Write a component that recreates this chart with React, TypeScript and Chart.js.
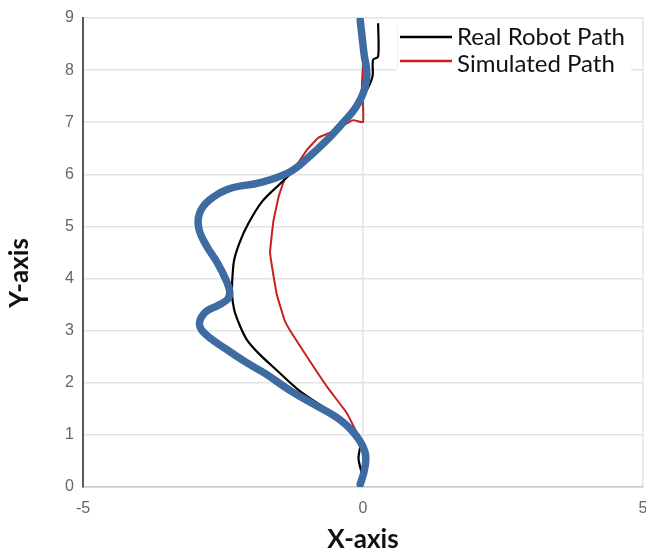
import React, { useEffect, useRef } from 'react';
import { Chart, registerables } from 'chart.js';

Chart.register(...registerables);

// Axis ranges / ticks
const xMin = -5;
const xMax = 5;
const yMin = 0;
const yMax = 9;
const xStep = 5;
const yStep = 1;

const xTitle = 'X-axis';
const yTitle = 'Y-axis';
const legendLabels = ['Real Robot Path', 'Simulated Path'];

// Thick blue path (x, y)
const blueX = [-0.05, 0.03, 0.04, -0.1, -0.4, -0.9, -1.3, -1.75, -2.1, -2.45, -2.8, -2.92, -2.82, -2.6, -2.42, -2.38, -2.45, -2.6, -2.79, -2.93, -2.92, -2.75, -2.4, -1.8, -1.3, -1.0, -0.65, -0.35, -0.15, 0.0, 0.07, 0.02, -0.05];
const blueY = [0.05, 0.35, 0.65, 0.95, 1.28, 1.6, 1.85, 2.18, 2.4, 2.65, 2.92, 3.12, 3.35, 3.48, 3.6, 3.75, 3.98, 4.3, 4.62, 4.95, 5.25, 5.5, 5.72, 5.85, 6.05, 6.3, 6.65, 7.0, 7.25, 7.55, 7.9, 8.3, 8.96];

// Real robot path (black)
const blackX = [-0.02, -0.08, -0.05, -0.4, -0.7, -1.15, -1.55, -1.85, -2.07, -2.2, -2.3, -2.34, -2.33, -2.3, -2.2, -2.05, -1.8, -1.48, -1.25, -0.95, -0.6, -0.3, -0.1, 0.07, 0.17, 0.18, 0.27, 0.27];
const blackY = [0.25, 0.55, 0.95, 1.33, 1.53, 1.86, 2.25, 2.55, 2.82, 3.1, 3.4, 3.72, 4.05, 4.36, 4.7, 5.05, 5.48, 5.82, 6.05, 6.35, 6.7, 7.05, 7.35, 7.62, 7.88, 8.2, 8.26, 8.9];

// Simulated path (red)
const redX = [0.0, -0.29, -0.64, -1.0, -1.3, -1.4, -1.54, -1.62, -1.66, -1.6, -1.5, -1.4, -1.25, -1.0, -0.8, -0.5, -0.18, 0.0, 0.0, -0.02, 0.0, 0.0];
const redY = [0.8, 1.42, 1.92, 2.5, 3.0, 3.2, 3.7, 4.2, 4.5, 5.1, 5.6, 5.9, 6.08, 6.47, 6.7, 6.84, 7.04, 7.0, 7.35, 7.7, 8.1, 8.4];

const zip = (xs: number[], ys: number[]) => xs.map((x, i) => ({ x, y: ys[i] }));

const BLUE = '#3d6ba2';
const BLACK = '#000000';
const RED = '#c8201e';

export default function App() {
  const ref = useRef<HTMLCanvasElement | null>(null);

  useEffect(() => {
    document.body.style.margin = '0';
    const canvas = ref.current;
    if (!canvas) return;

    const overlay = {
      id: 'overlay',
      afterDraw(chart: any) {
        const ctx = chart.ctx as CanvasRenderingContext2D;
        ctx.save();
        // Y-axis title
        ctx.translate(20, 273);
        ctx.rotate(-Math.PI / 2);
        ctx.font = 'bold 26px Lato';
        ctx.fillStyle = '#111';
        ctx.textAlign = 'center';
        ctx.textBaseline = 'middle';
        ctx.fillText(yTitle, 0, 0);
        ctx.restore();

        // Legend
        ctx.save();
        ctx.fillStyle = '#ffffff';
        ctx.fillRect(397, 21, 234, 62);
        ctx.strokeStyle = '#eeeeee';
        ctx.lineWidth = 1;
        ctx.beginPath();
        ctx.moveTo(397.5, 26);
        ctx.lineTo(397.5, 68);
        ctx.stroke();
        const rows = [
          { y: 37, color: BLACK, w: 2.5 },
          { y: 61, color: RED, w: 2.5 },
        ];
        ctx.font = '24px Lato';
        ctx.textBaseline = 'middle';
        ctx.textAlign = 'left';
        rows.forEach((r, i) => {
          ctx.strokeStyle = r.color;
          ctx.lineWidth = r.w;
          ctx.beginPath();
          ctx.moveTo(400, r.y);
          ctx.lineTo(452, r.y);
          ctx.stroke();
          ctx.fillStyle = '#111';
          ctx.fillText(legendLabels[i], 457, r.y + (i === 1 ? 3 : 0));
        });
        ctx.restore();
      },
    };

    const chart = new Chart(canvas, {
      type: 'line',
      data: {
        datasets: [
          {
            label: 'Blue',
            data: zip(blueX, blueY),
            borderColor: BLUE,
            borderWidth: 7.5,
            pointRadius: 0,
            tension: 0.4,
            fill: false,
            order: 0,
            borderCapStyle: 'round',
            borderJoinStyle: 'round',
          },
          {
            label: legendLabels[0],
            data: zip(blackX, blackY),
            borderColor: BLACK,
            borderWidth: 2.2,
            pointRadius: 0,
            tension: 0.3,
            fill: false,
            order: 1,
          },
          {
            label: legendLabels[1],
            data: zip(redX, redY),
            borderColor: RED,
            borderWidth: 2,
            pointRadius: 0,
            tension: 0.1,
            fill: false,
            order: 2,
          },
        ],
      },
      options: {
        responsive: false,
        animation: false,
        layout: { padding: { top: 18, right: 3, left: 0, bottom: 0 } },
        plugins: {
          legend: { display: false },
          tooltip: { enabled: false },
        },
        scales: {
          x: {
            type: 'linear',
            min: xMin,
            max: xMax,
            afterFit: (s: any) => { s.height = 70; s.paddingLeft = 0; s.paddingRight = 0; },
            ticks: {
              stepSize: xStep,
              padding: 12,
              color: '#666',
              font: { family: 'Liberation Sans', size: 16 },
              maxRotation: 0,
            },
            grid: {
              drawTicks: false,
              color: (c: any) => (c.tick && c.tick.value === xMin ? 'rgba(0,0,0,0)' : '#e4e4e4'),
              lineWidth: 1.5,
            },
            border: { display: true, color: '#c8c8c8', width: 1.5 },
            title: {
              display: true,
              text: xTitle,
              color: '#111',
              font: { family: 'Lato', size: 26, weight: 'bold' },
              padding: { top: 0, bottom: 2 },
            },
          },
          y: {
            type: 'linear',
            min: yMin,
            max: yMax,
            afterFit: (s: any) => { s.width = 83; s.paddingTop = 0; s.paddingBottom = 0; },
            ticks: {
              stepSize: yStep,
              padding: 9,
              color: '#666',
              font: { family: 'Liberation Sans', size: 16 },
            },
            grid: {
              drawTicks: false,
              color: '#e4e4e4',
              lineWidth: 1.5,
            },
            border: { display: true, color: '#5a5a5a', width: 2 },
          },
        },
      },
      plugins: [overlay],
    } as any);

    return () => chart.destroy();
  }, []);

  return (
    <div style={{ position: 'absolute', left: 0, top: 0, width: 646, height: 557, background: '#fff' }}>
      <canvas ref={ref} width={646} height={557} style={{ display: 'block' }} />
    </div>
  );
}
